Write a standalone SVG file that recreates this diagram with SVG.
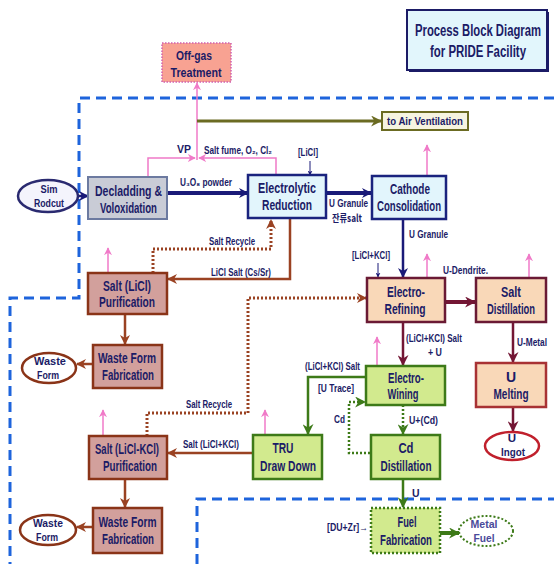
<svg xmlns="http://www.w3.org/2000/svg" width="554" height="564" viewBox="0 0 554 564">
<style>
text{font-family:"Liberation Sans",Arial,sans-serif;font-weight:bold;fill:#1b1b66}
.bt{font-size:14px;text-anchor:middle}
.lb{font-size:10.5px}
.lbm{font-size:10.5px;text-anchor:middle}
.el{font-size:11.5px;text-anchor:middle}
.navy{stroke:#1a1a78;fill:none}
.pink{stroke:#f07ac8;fill:none;stroke-width:1.5}
.brown{stroke:#9a4222;fill:none}
.maroon{stroke:#731634;fill:none}
.green{stroke:#3d7a18;fill:none}
.dot{stroke-dasharray:2 2}
.gray{fill:#c9ccd6;stroke:#6c7aa0;stroke-width:2}
.cyan{fill:#e2f5fc;stroke:#1a237e;stroke-width:2.5}
.peach{fill:#f9d8b8;stroke:#6a1a34;stroke-width:2.5}
.grn{fill:#d2ea8e;stroke:#3d7a18;stroke-width:2.5}
.rose{fill:#d2a09c;stroke:#8a3418;stroke-width:2.5}
</style>
<defs>
<marker id="aNavy" viewBox="0 0 10 10" refX="9" refY="5" markerWidth="10" markerHeight="10" markerUnits="userSpaceOnUse" orient="auto"><path d="M0,0 L10,5 L0,10 L3,5z" fill="#1a1a78"/></marker>
<marker id="aNavyS" viewBox="0 0 10 10" refX="9" refY="5" markerWidth="5" markerHeight="5" markerUnits="userSpaceOnUse" orient="auto"><path d="M0,0 L10,5 L0,10 L3,5z" fill="#1a1a78"/></marker>
<marker id="aPink" viewBox="0 0 10 10" refX="9" refY="5" markerWidth="8" markerHeight="8" markerUnits="userSpaceOnUse" orient="auto"><path d="M0,0 L10,5 L0,10 L3,5z" fill="#f07ac8"/></marker>
<marker id="aOlive" viewBox="0 0 10 10" refX="9" refY="5" markerWidth="11" markerHeight="11" markerUnits="userSpaceOnUse" orient="auto"><path d="M0,0 L10,5 L0,10 L3,5z" fill="#6b6b22"/></marker>
<marker id="aBrown" viewBox="0 0 10 10" refX="9" refY="5" markerWidth="10" markerHeight="10" markerUnits="userSpaceOnUse" orient="auto"><path d="M0,0 L10,5 L0,10 L3,5z" fill="#9a4222"/></marker>
<marker id="aMaroon" viewBox="0 0 10 10" refX="9" refY="5" markerWidth="11" markerHeight="11" markerUnits="userSpaceOnUse" orient="auto"><path d="M0,0 L10,5 L0,10 L3,5z" fill="#731634"/></marker>
<marker id="aGreen" viewBox="0 0 10 10" refX="9" refY="5" markerWidth="11" markerHeight="11" markerUnits="userSpaceOnUse" orient="auto"><path d="M0,0 L10,5 L0,10 L3,5z" fill="#3d7a18"/></marker>
</defs>
<rect width="554" height="564" fill="#ffffff"/>

<!-- facility boundary -->
<g id="boundary" fill="none" stroke="#1e64dc" stroke-width="3" stroke-dasharray="10 6">
<path d="M554,98 H79 V298 H10 V564"/>
<path d="M197,564 V499 H554"/>
</g>

<g id="connectors">
<!-- navy -->
<line x1="78" y1="196" x2="88" y2="196" class="navy" stroke-width="2.5" marker-end="url(#aNavy)"/>
<line x1="167" y1="193" x2="248" y2="193" class="navy" stroke-width="4" marker-end="url(#aNavy)"/>
<line x1="310" y1="161" x2="310" y2="175" class="navy" stroke-width="1" marker-end="url(#aNavyS)"/>
<line x1="326" y1="193" x2="371" y2="193" class="navy" stroke-width="4" marker-end="url(#aNavy)"/>
<line x1="403" y1="219" x2="403" y2="277" class="navy" stroke-width="2.5" marker-end="url(#aNavy)"/>
<line x1="378" y1="263" x2="378" y2="277" class="navy" stroke-width="1" marker-end="url(#aNavyS)"/>
<!-- pink -->
<line x1="197" y1="160" x2="197" y2="83" class="pink" marker-end="url(#aPink)"/>
<path d="M148,177 V158 H195" class="pink" marker-end="url(#aPink)"/>
<path d="M276,176 V158 H199" class="pink" marker-end="url(#aPink)"/>
<line x1="427" y1="176" x2="427" y2="145" class="pink" marker-end="url(#aPink)"/>
<line x1="427" y1="278" x2="427" y2="254" class="pink" marker-end="url(#aPink)"/>
<line x1="529" y1="278" x2="529" y2="254" class="pink" marker-end="url(#aPink)"/>
<line x1="377" y1="366" x2="377" y2="337" class="pink" marker-end="url(#aPink)"/>
<line x1="265" y1="435" x2="265" y2="410" class="pink" marker-end="url(#aPink)"/>
<line x1="103" y1="436" x2="103" y2="410" class="pink" marker-end="url(#aPink)"/>
<line x1="108" y1="273" x2="108" y2="248" class="pink" marker-end="url(#aPink)"/>
<!-- olive -->
<line x1="197" y1="121" x2="381" y2="121" stroke="#6b6b22" stroke-width="3" marker-end="url(#aOlive)"/>
<!-- brown -->
<path d="M290,218 V279 H168" class="brown" stroke-width="2.5" marker-end="url(#aBrown)"/>
<path d="M153,273 V249 H271 V220" class="brown dot" stroke-width="3" marker-end="url(#aBrown)"/>
<line x1="125" y1="314" x2="125" y2="344" class="brown" stroke-width="2.5" marker-end="url(#aBrown)"/>
<line x1="93" y1="364" x2="77" y2="364" class="brown" stroke-width="2.5" marker-end="url(#aBrown)"/>
<line x1="253" y1="453" x2="168" y2="453" class="brown" stroke-width="2.5" marker-end="url(#aBrown)"/>
<path d="M147,436 V413 H248 V298 H366" class="brown dot" stroke-width="3" marker-end="url(#aBrown)"/>
<line x1="125" y1="479" x2="125" y2="507" class="brown" stroke-width="2.5" marker-end="url(#aBrown)"/>
<line x1="93" y1="527" x2="77" y2="527" class="brown" stroke-width="2.5" marker-end="url(#aBrown)"/>
<!-- maroon -->
<line x1="445" y1="302" x2="475" y2="302" class="maroon" stroke-width="4" marker-end="url(#aMaroon)"/>
<line x1="513" y1="322" x2="513" y2="362" class="maroon" stroke-width="2.5" marker-end="url(#aMaroon)"/>
<line x1="513" y1="407" x2="513" y2="431" class="maroon" stroke-width="2.5" marker-end="url(#aMaroon)"/>
<line x1="403" y1="322" x2="403" y2="365" class="maroon" stroke-width="2.5" marker-end="url(#aMaroon)"/>
<!-- green -->
<path d="M366,377 H308 V434" class="green" stroke-width="2.5" marker-end="url(#aGreen)"/>
<path d="M370,453 H349 V402 H365" class="green dot" stroke-width="2.5" marker-end="url(#aGreen)"/>
<line x1="403" y1="405" x2="403" y2="434" class="green dot" stroke-width="2.5" marker-end="url(#aGreen)"/>
<line x1="403" y1="479" x2="403" y2="507" class="green" stroke-width="2.5" marker-end="url(#aGreen)"/>
<line x1="440" y1="533" x2="459" y2="533" class="green" stroke-width="4" marker-end="url(#aGreen)"/>
</g>

<g id="title">
<rect x="409" y="12" width="140" height="60" fill="#1b1b66"/>
<rect x="407" y="10" width="140" height="60" fill="#e2f6fc" stroke="#1b1b66" stroke-width="2"/>
<text x="478" y="36" class="bt" style="font-size:16px" textLength="126" lengthAdjust="spacingAndGlyphs">Process Block Diagram</text>
<text x="478" y="57" class="bt" style="font-size:16px" textLength="96" lengthAdjust="spacingAndGlyphs">for PRIDE Facility</text>
</g>

<g id="offgas">
<rect x="162" y="43" width="69" height="39" fill="#f8a292" stroke="#d060b0" stroke-width="1.5" stroke-dasharray="1.5 1.5"/>
<text x="194" y="60" class="bt" style="font-size:13px" textLength="36" lengthAdjust="spacingAndGlyphs">Off-gas</text>
<text x="196" y="77" class="bt" style="font-size:13px" textLength="51" lengthAdjust="spacingAndGlyphs">Treatment</text>
</g>

<g id="airvent">
<rect x="382" y="112" width="86" height="18" fill="#f6f4e0" stroke="#6b6b22" stroke-width="2"/>
<text x="425" y="125" class="lbm" style="font-size:11.5px" textLength="76" lengthAdjust="spacingAndGlyphs">to Air Ventilation</text>
</g>

<g id="simrodcut">
<ellipse cx="48" cy="196" rx="30" ry="16" fill="#f4f4fc" stroke="#2a2a70" stroke-width="2.5"/>
<text x="49" y="193" class="el" textLength="17" lengthAdjust="spacingAndGlyphs">Sim</text>
<text x="49" y="207" class="el" textLength="30" lengthAdjust="spacingAndGlyphs">Rodcut</text>
</g>

<g id="decladding">
<rect x="88" y="177" width="79" height="42" class="gray"/>
<text x="128.5" y="196" class="bt" textLength="67" lengthAdjust="spacingAndGlyphs">Decladding &amp;</text>
<text x="128.5" y="213" class="bt" textLength="57" lengthAdjust="spacingAndGlyphs">Voloxidation</text>
</g>

<g id="electrolytic">
<rect x="248" y="175" width="78" height="43" class="cyan"/>
<text x="287" y="193" class="bt" textLength="58" lengthAdjust="spacingAndGlyphs">Electrolytic</text>
<text x="287" y="210" class="bt" textLength="50" lengthAdjust="spacingAndGlyphs">Reduction</text>
</g>

<g id="cathode">
<rect x="372" y="176" width="74" height="43" class="cyan"/>
<text x="410" y="194" class="bt" textLength="40" lengthAdjust="spacingAndGlyphs">Cathode</text>
<text x="409" y="211" class="bt" textLength="64" lengthAdjust="spacingAndGlyphs">Consolidation</text>
</g>

<g id="saltlicl">
<rect x="88" y="273" width="79" height="41" class="rose"/>
<text x="127" y="291" class="bt" textLength="48" lengthAdjust="spacingAndGlyphs">Salt (LiCl)</text>
<text x="127" y="307" class="bt" textLength="56" lengthAdjust="spacingAndGlyphs">Purification</text>
</g>

<g id="wff1">
<rect x="93" y="345" width="69" height="43" class="rose"/>
<text x="127" y="363" class="bt" textLength="58" lengthAdjust="spacingAndGlyphs">Waste Form</text>
<text x="128" y="380" class="bt" textLength="52" lengthAdjust="spacingAndGlyphs">Fabrication</text>
</g>

<g id="wf1">
<ellipse cx="49" cy="368" rx="27" ry="15" fill="#ffffff" stroke="#8a3418" stroke-width="2.5"/>
<text x="50" y="365" class="el" textLength="32" lengthAdjust="spacingAndGlyphs">Waste</text>
<text x="48" y="379" class="el" textLength="22" lengthAdjust="spacingAndGlyphs">Form</text>
</g>

<g id="electrorefining">
<rect x="367" y="278" width="78" height="44" class="peach"/>
<text x="406" y="297" class="bt" textLength="38" lengthAdjust="spacingAndGlyphs">Electro-</text>
<text x="405" y="314" class="bt" textLength="41" lengthAdjust="spacingAndGlyphs">Refining</text>
</g>

<g id="saltdist">
<rect x="476" y="278" width="70" height="44" class="peach"/>
<text x="511" y="297" class="bt" textLength="20" lengthAdjust="spacingAndGlyphs">Salt</text>
<text x="511" y="314" class="bt" textLength="48" lengthAdjust="spacingAndGlyphs">Distillation</text>
</g>

<g id="umelting">
<rect x="476" y="363" width="70" height="44" class="peach" style="stroke:#a83234"/>
<text x="511" y="382" class="bt">U</text>
<text x="511" y="399" class="bt" textLength="35" lengthAdjust="spacingAndGlyphs">Melting</text>
</g>

<g id="uingot">
<ellipse cx="512" cy="446" rx="27" ry="14" fill="#ffffff" stroke="#c0202c" stroke-width="2.5"/>
<text x="512" y="442" class="el">U</text>
<text x="513" y="456" class="el" textLength="24" lengthAdjust="spacingAndGlyphs">Ingot</text>
</g>

<g id="electrowining">
<rect x="366" y="366" width="79" height="39" class="grn"/>
<text x="406" y="383" class="bt" textLength="36" lengthAdjust="spacingAndGlyphs">Electro-</text>
<text x="403" y="399" class="bt" textLength="31" lengthAdjust="spacingAndGlyphs">Wining</text>
</g>

<g id="tru">
<rect x="253" y="435" width="69" height="44" class="grn"/>
<text x="283" y="453" class="bt" textLength="21" lengthAdjust="spacingAndGlyphs">TRU</text>
<text x="288" y="471" class="bt" textLength="56" lengthAdjust="spacingAndGlyphs">Draw Down</text>
</g>

<g id="cddist">
<rect x="371" y="435" width="69" height="44" class="grn"/>
<text x="406" y="453" class="bt" textLength="15" lengthAdjust="spacingAndGlyphs">Cd</text>
<text x="406" y="471" class="bt" textLength="51" lengthAdjust="spacingAndGlyphs">Distillation</text>
</g>

<g id="saltliclkcl">
<rect x="89" y="436" width="78" height="43" class="rose"/>
<text x="127" y="454" class="bt" textLength="64" lengthAdjust="spacingAndGlyphs">Salt (LiCl-KCl)</text>
<text x="130" y="471" class="bt" textLength="54" lengthAdjust="spacingAndGlyphs">Purification</text>
</g>

<g id="wff2">
<rect x="93" y="508" width="69" height="45" class="rose"/>
<text x="127.5" y="527" class="bt" textLength="58" lengthAdjust="spacingAndGlyphs">Waste Form</text>
<text x="128" y="544" class="bt" textLength="52" lengthAdjust="spacingAndGlyphs">Fabrication</text>
</g>

<g id="wf2">
<ellipse cx="48" cy="530" rx="28" ry="15" fill="#ffffff" stroke="#8a3418" stroke-width="2.5"/>
<text x="48" y="527" class="el" textLength="30" lengthAdjust="spacingAndGlyphs">Waste</text>
<text x="47" y="541" class="el" textLength="22" lengthAdjust="spacingAndGlyphs">Form</text>
</g>

<g id="fuelfab">
<rect x="371" y="508" width="69" height="45" fill="#d2ea8e" stroke="#3d7a18" stroke-width="2.5" stroke-dasharray="2 2"/>
<text x="407" y="527" class="bt" textLength="19" lengthAdjust="spacingAndGlyphs">Fuel</text>
<text x="406" y="545" class="bt" textLength="52" lengthAdjust="spacingAndGlyphs">Fabrication</text>
</g>

<g id="metalfuel">
<ellipse cx="486" cy="531" rx="27" ry="15" fill="#ffffff" stroke="#3d7a18" stroke-width="2" stroke-dasharray="2 2"/>
<text x="484" y="528" class="el" style="fill:#4a4a9a" textLength="27" lengthAdjust="spacingAndGlyphs">Metal</text>
<text x="484" y="542" class="el" style="fill:#4a4a9a" textLength="21" lengthAdjust="spacingAndGlyphs">Fuel</text>
</g>

<g id="labels">
<text x="177" y="153" class="lb" textLength="14" lengthAdjust="spacingAndGlyphs">VP</text>
<text x="204" y="154" class="lb" textLength="68" lengthAdjust="spacingAndGlyphs">Salt fume, O₂, Cl₂</text>
<text x="180" y="186" class="lb" textLength="52" lengthAdjust="spacingAndGlyphs">U₃O₈ powder</text>
<text x="298" y="156" class="lb" textLength="20" lengthAdjust="spacingAndGlyphs">[LiCl]</text>
<text x="329" y="207" class="lb" textLength="39" lengthAdjust="spacingAndGlyphs">U Granule</text>
<text x="332" y="222" class="lb" style="font-family:'Noto Sans CJK KR',sans-serif" textLength="30" lengthAdjust="spacingAndGlyphs">잔류salt</text>
<text x="409" y="238" class="lb" textLength="39" lengthAdjust="spacingAndGlyphs">U Granule</text>
<text x="352" y="259" class="lb" textLength="38" lengthAdjust="spacingAndGlyphs">[LiCl+KCl]</text>
<text x="443" y="274" class="lb" textLength="45" lengthAdjust="spacingAndGlyphs">U-Dendrite.</text>
<text x="517" y="346" class="lb" textLength="30" lengthAdjust="spacingAndGlyphs">U-Metal</text>
<text x="406" y="342" class="lb" textLength="56" lengthAdjust="spacingAndGlyphs">(LiCl+KCl) Salt</text>
<text x="428" y="356" class="lb" textLength="14" lengthAdjust="spacingAndGlyphs">+ U</text>
<text x="305" y="370" class="lb" textLength="55" lengthAdjust="spacingAndGlyphs">(LiCl+KCl) Salt</text>
<text x="318" y="392" class="lb" textLength="36" lengthAdjust="spacingAndGlyphs">[U Trace]</text>
<text x="334" y="423" class="lb" textLength="11" lengthAdjust="spacingAndGlyphs">Cd</text>
<text x="409" y="424" class="lb" textLength="29" lengthAdjust="spacingAndGlyphs">U+(Cd)</text>
<text x="412" y="497" class="lb">U</text>
<text x="327" y="531" class="lb" textLength="41" lengthAdjust="spacingAndGlyphs">[DU+Zr]→</text>
<text x="209" y="245" class="lb" textLength="46" lengthAdjust="spacingAndGlyphs">Salt Recycle</text>
<text x="211" y="276" class="lb" textLength="60" lengthAdjust="spacingAndGlyphs">LiCl Salt (Cs/Sr)</text>
<text x="186" y="408" class="lb" textLength="46" lengthAdjust="spacingAndGlyphs">Salt Recycle</text>
<text x="183" y="448" class="lb" textLength="56" lengthAdjust="spacingAndGlyphs">Salt (LiCl+KCl)</text>
</g>
</svg>
